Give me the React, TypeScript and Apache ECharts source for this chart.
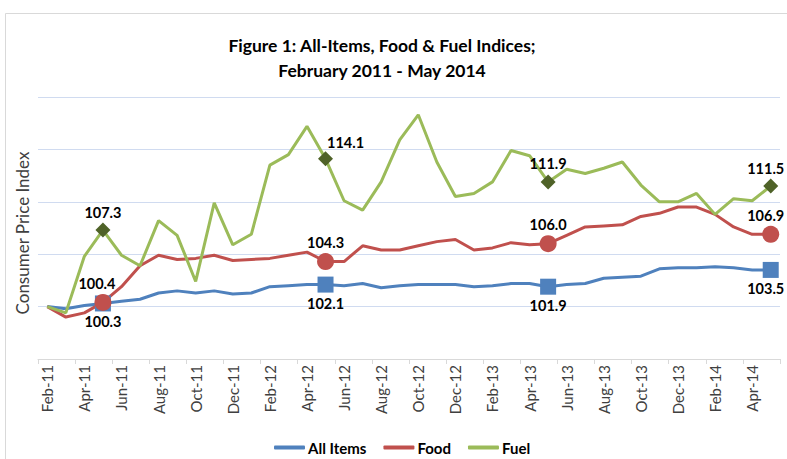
import React, { useEffect, useRef } from "react";
import * as echarts from "echarts";

const categories = [
  "Feb-11", "Mar-11", "Apr-11", "May-11", "Jun-11", "Jul-11", "Aug-11", "Sep-11", "Oct-11", "Nov-11", "Dec-11",
  "Jan-12", "Feb-12", "Mar-12", "Apr-12", "May-12", "Jun-12", "Jul-12", "Aug-12", "Sep-12", "Oct-12", "Nov-12", "Dec-12",
  "Jan-13", "Feb-13", "Mar-13", "Apr-13", "May-13", "Jun-13", "Jul-13", "Aug-13", "Sep-13", "Oct-13", "Nov-13", "Dec-13",
  "Jan-14", "Feb-14", "Mar-14", "Apr-14", "May-14",
];

const allItems = [
  100.0, 99.8, 100.1, 100.3, 100.5, 100.7, 101.3, 101.5, 101.3, 101.5,
  101.2, 101.3, 101.9, 102.0, 102.1, 102.1, 102.0, 102.2, 101.8, 102.0,
  102.1, 102.1, 102.1, 101.9, 102.0, 102.2, 102.2, 101.9, 102.1, 102.2,
  102.7, 102.8, 102.9, 103.6, 103.7, 103.7, 103.8, 103.7, 103.5, 103.5,
];

const food = [
  100.0, 99.0, 99.4, 100.4, 101.9, 103.9, 104.9, 104.5, 104.6, 104.9,
  104.4, 104.5, 104.6, 104.9, 105.2, 104.3, 104.3, 105.8, 105.4, 105.4,
  105.8, 106.2, 106.4, 105.4, 105.6, 106.1, 105.9, 106.0, 106.8, 107.6,
  107.7, 107.8, 108.6, 108.9, 109.5, 109.5, 108.8, 107.6, 106.9, 106.9,
];

const fuel = [
  100.0, 99.4, 104.8, 107.3, 104.9, 103.9, 108.2, 106.8, 102.4, 109.9,
  105.9, 106.9, 113.5, 114.5, 117.2, 114.1, 110.1, 109.2, 111.9, 115.9,
  118.3, 113.8, 110.5, 110.8, 111.9, 114.9, 114.4, 111.9, 113.1, 112.7,
  113.2, 113.8, 111.6, 110.0, 110.0, 110.8, 108.8, 110.3, 110.1, 111.5,
];

const markedIdx = [3, 15, 27, 39];

const FONT = "Lato";

function withMarkers(
  arr: number[],
  symbol: string,
  size: number,
  color: string,
  position: string,
  offsets: Record<number, number[]> = {}
) {
  return arr.map((v, i) =>
    markedIdx.includes(i)
      ? {
          value: v,
          symbol,
          symbolSize: size,
          itemStyle: { color },
          label: {
            show: true,
            position,
            distance: 3,
            offset: offsets[i] || [0, 0],
            formatter: (p: any) => Number(p.value).toFixed(1),
            fontFamily: FONT,
            fontWeight: "bold",
            fontSize: 14.5,
            color: "#000",
          },
        }
      : v
  );
}

export default function App() {
  const ref = useRef<HTMLDivElement>(null);
  useEffect(() => {
    if (!ref.current) return;
    const chart = echarts.init(ref.current, null, { renderer: "svg" });
    chart.setOption({
      animation: false,
      textStyle: { fontFamily: FONT },
      title: {
        text: "Figure 1: All-Items, Food & Fuel Indices;\nFebruary 2011 - May 2014",
        left: 377,
        top: 28,
        textAlign: "center",
        textStyle: {
          fontFamily: FONT,
          fontWeight: "bold",
          fontSize: 17.5,
          lineHeight: 25,
          color: "#000",
        },
      },
      graphic: [
        {
          type: "rect",
          shape: { x: 5.5, y: 13.5, width: 900, height: 600 },
          style: { fill: "none", stroke: "#D9D9D9", lineWidth: 1 },
          silent: true,
        },
        {
          type: "text",
          x: 22,
          y: 233,
          rotation: Math.PI / 2,
          silent: true,
          style: {
            text: "Consumer Price Index",
            fontFamily: FONT,
            fontSize: 17,
            fill: "#404040",
            align: "center",
            verticalAlign: "middle",
          },
        },
      ],
      legend: {
        left: 269,
        top: 435,
        icon: "roundRect",
        itemWidth: 31,
        itemHeight: 4,
        itemGap: 17,
        textStyle: { fontFamily: FONT, fontWeight: "bold", fontSize: 15, color: "#000", padding: [0, 0, 0, -2] },
        data: ["All Items", "Food", "Fuel"],
      },
      grid: { left: 38, right: 7, top: 97, bottom: 100, containLabel: false },
      xAxis: {
        type: "category",
        data: categories,
        boundaryGap: true,
        axisLine: { lineStyle: { color: "#D9D9D9", width: 1 } },
        axisTick: { show: true, interval: 1, length: 5, lineStyle: { color: "#D9D9D9" } },
        axisLabel: {
          interval: 1,
          rotate: 90,
          margin: 6,
          fontSize: 15,
          color: "#404040",
          fontFamily: FONT,
        },
      },
      yAxis: {
        type: "value",
        min: 95,
        max: 120,
        interval: 5,
        axisLine: { show: false },
        axisTick: { show: false },
        axisLabel: { show: false },
        splitLine: { lineStyle: { color: "#D0DBF0", width: 1 } },
      },
      series: [
        {
          name: "All Items",
          type: "line",
          symbol: "none",
          showAllSymbol: true,
          color: "#4F81BD",
          lineStyle: { width: 3, color: "#4F81BD" },
          data: withMarkers(allItems, "rect", 16, "#4F81BD", "bottom", { 39: [-5, 0] }),
        },
        {
          name: "Food",
          type: "line",
          symbol: "none",
          showAllSymbol: true,
          color: "#C0504D",
          lineStyle: { width: 3, color: "#C0504D" },
          data: withMarkers(food, "circle", 17, "#C0504D", "top", { 3: [-6, 0], 39: [-5, 0] }),
        },
        {
          name: "Fuel",
          type: "line",
          symbol: "none",
          showAllSymbol: true,
          color: "#9BBB59",
          lineStyle: { width: 3, color: "#9BBB59" },
          data: withMarkers(fuel, "diamond", 15, "#4F6228", "top", { 15: [20, 2], 39: [-5, 0] }),
        },
      ],
    });
    return () => chart.dispose();
  }, []);
  return (
    <div
      ref={ref}
      style={{ position: "fixed", left: 0, top: 0, width: 787, height: 459, background: "#fff" }}
    />
  );
}
